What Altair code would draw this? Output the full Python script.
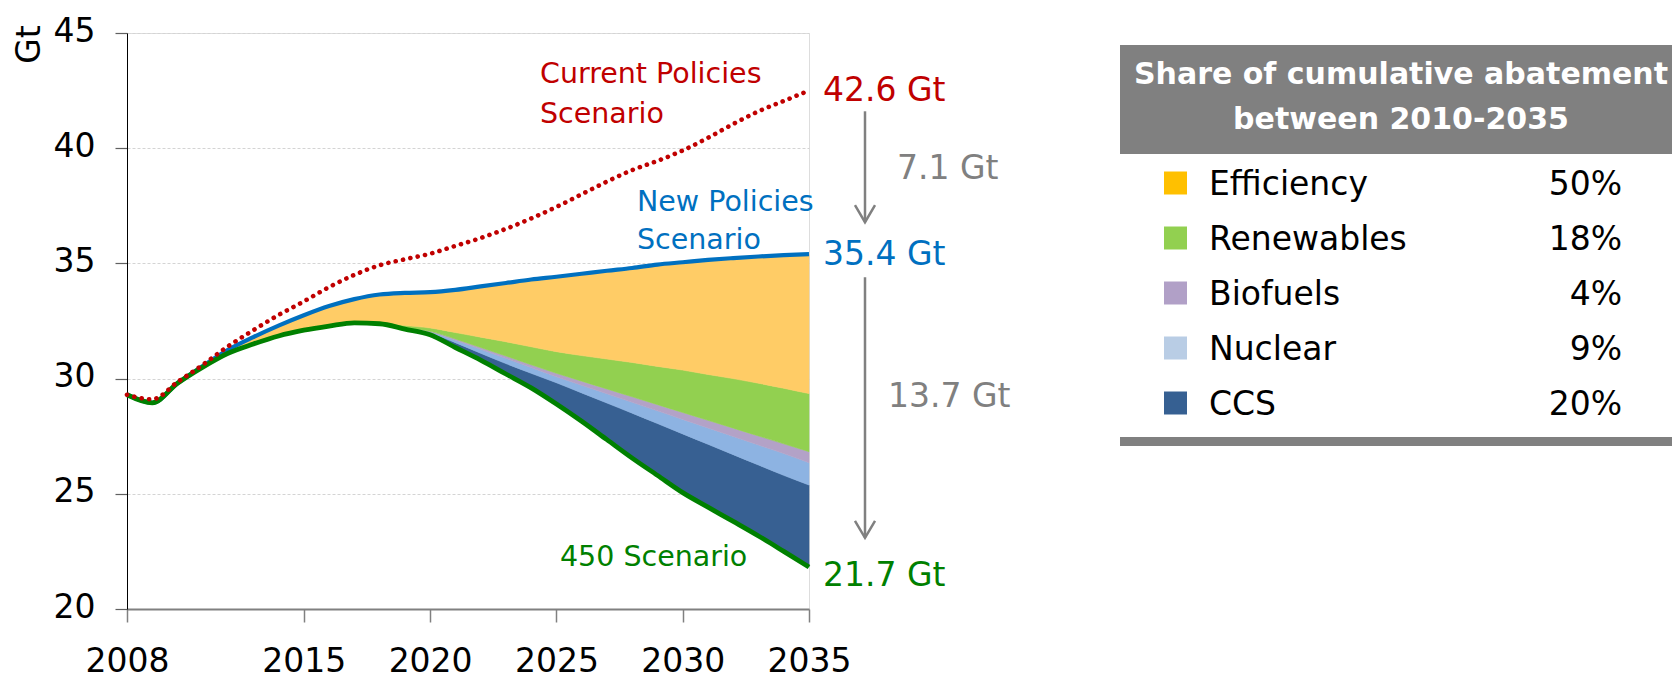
import altair as alt
import pandas as pd

# ---------------- data ----------------
years = [2008, 2009, 2010, 2011, 2012, 2013, 2014, 2015, 2016, 2017,
         2018, 2019, 2020, 2021, 2022, 2023, 2024, 2025, 2026, 2027,
         2028, 2029, 2030, 2031, 2032, 2033, 2034, 2035]

current_policies = [29.3, 29.1, 29.85, 30.6, 31.4, 32.1, 32.76, 33.35, 33.97, 34.5,
                    34.92, 35.18, 35.42, 35.76, 36.1, 36.5, 36.95, 37.45, 38.0, 38.55,
                    39.05, 39.45, 39.9, 40.45, 41.05, 41.6, 42.05, 42.5]

new_policies = [29.3, 28.95, 29.8, 30.55, 31.25, 31.8, 32.3, 32.75, 33.15, 33.45,
                33.65, 33.72, 33.75, 33.85, 34.0, 34.15, 34.3, 34.42, 34.55, 34.68,
                34.8, 34.95, 35.05, 35.15, 35.23, 35.3, 35.36, 35.4]

scenario_450 = [29.3, 28.95, 29.8, 30.5, 31.1, 31.5, 31.85, 32.1, 32.28, 32.42,
                32.38, 32.15, 31.9, 31.35, 30.8, 30.2, 29.6, 28.9, 28.15, 27.35,
                26.55, 25.8, 25.05, 24.42, 23.8, 23.17, 22.5, 21.82]

# abatement wedges (Gt) between New Policies and 450 Scenario
efficiency = [0, 0, 0, 0.05, 0.15, 0.3, 0.45, 0.65, 0.87, 1.03,
              1.23, 1.42, 1.55, 1.85, 2.2, 2.55, 2.92, 3.25, 3.55, 3.83,
              4.1, 4.42, 4.68, 4.97, 5.23, 5.5, 5.78, 6.05]
renewables = [0, 0, 0, 0, 0, 0, 0, 0, 0, 0,
              0.02, 0.08, 0.15, 0.28, 0.45, 0.62, 0.78, 0.94, 1.11, 1.30,
              1.49, 1.66, 1.84, 1.99, 2.15, 2.29, 2.41, 2.52]
biofuels = [0, 0, 0, 0, 0, 0, 0, 0, 0, 0,
            0, 0.02, 0.03, 0.06, 0.08, 0.10, 0.12, 0.15, 0.18, 0.21,
            0.24, 0.27, 0.30, 0.33, 0.36, 0.39, 0.42, 0.48]
nuclear = [0, 0, 0, 0, 0, 0, 0, 0, 0, 0,
           0.01, 0.02, 0.04, 0.10, 0.17, 0.23, 0.25, 0.26, 0.33, 0.40,
           0.47, 0.55, 0.63, 0.71, 0.79, 0.87, 0.95, 0.97]
ccs = [0, 0, 0, 0, 0, 0, 0, 0, 0, 0,
       0.01, 0.03, 0.08, 0.21, 0.30, 0.45, 0.63, 0.92, 1.23, 1.59,
       1.95, 2.25, 2.55, 2.73, 2.90, 3.08, 3.30, 3.56]

measures = ["Efficiency", "Renewables", "Biofuels", "Nuclear", "CCS"]
shares = ["50%", "18%", "4%", "9%", "20%"]

end_year = 2035
end_cps = 42.6
end_nps = 35.4
end_450 = 21.7
gap_labels = ["7.1 Gt", "13.7 Gt"]

x_ticks = [2008, 2015, 2020, 2025, 2030, 2035]
y_ticks = [20, 25, 30, 35, 40, 45]

# ---------------- styles ----------------
FONT = "DejaVu Sans"
RED, BLUE, GREEN, GREY = "#C00000", "#0070C0", "#008000", "#808080"
area_colors = ["#FFCC66", "#92D050", "#B3A2C7", "#8DB3E2", "#376092"]
swatch_colors = ["#FFC000", "#92D050", "#B1A0C7", "#B9CDE5", "#366092"]

# ---------------- tables ----------------
wedge_values = dict(zip(measures, [efficiency, renewables, biofuels, nuclear, ccs]))
stack_order = ["CCS", "Nuclear", "Biofuels", "Renewables", "Efficiency"]
rows = []
for i, yr in enumerate(years):
    base = scenario_450[i]
    for m in stack_order:
        top = base + wedge_values[m][i]
        rows.append({"year": yr, "measure": m, "low": round(base, 3), "high": round(top, 3),
                     "rank": stack_order.index(m)})
        base = top
wedges = pd.DataFrame(rows)

lines = pd.DataFrame({"year": years, "cps": current_policies,
                      "nps": new_policies, "s450": scenario_450})

x_scale = alt.Scale(domain=[2008, 2035], nice=False, zero=False)
y_scale = alt.Scale(domain=[20, 45], nice=False, zero=False)

x_axis = alt.Axis(values=x_ticks, format="d", title=None, grid=False,
                  domainColor=GREY, domainWidth=2, tickColor=GREY, tickWidth=1.5,
                  tickSize=13, labelFontSize=33, labelColor="black", labelFont=FONT,
                  labelPadding=23, labelFlush=False)
y_axis = alt.Axis(values=y_ticks, title="Gt", grid=True, gridColor="#D4D4D4",
                  gridDash=[3, 2], gridWidth=1, domainColor="black", domainWidth=1,
                  tickColor="#606060", tickWidth=1.2, tickSize=12,
                  labelFontSize=33, labelColor="black", labelFont=FONT,
                  labelPadding=20, labelOffset=-2,
                  titleFontSize=33, titleFont=FONT, titleFontWeight="normal",
                  titleColor="black", titleAngle=-90, titleX=-98, titleY=11,
                  titleAlign="center", titleBaseline="middle")


def X(field="year"):
    return alt.X(f"{field}:Q", scale=x_scale, axis=x_axis)


def Y(field):
    return alt.Y(f"{field}:Q", scale=y_scale, axis=y_axis)


areas = alt.Chart(wedges).mark_area(interpolate="monotone", opacity=1,
                                    strokeWidth=0.6).encode(
    x=X(), y=Y("high"), y2="low:Q",
    fill=alt.Fill("measure:N", scale=alt.Scale(domain=measures, range=area_colors), legend=None),
    stroke=alt.Stroke("measure:N", scale=alt.Scale(domain=measures, range=area_colors), legend=None),
    order=alt.Order("rank:Q"),
)

nps_line = alt.Chart(lines).mark_line(color=BLUE, strokeWidth=4.2, interpolate="monotone").encode(
    x=X(), y=Y("nps"))
s450_line = alt.Chart(lines).mark_line(color=GREEN, strokeWidth=4.8, interpolate="monotone").encode(
    x=X(), y=Y("s450"))
cps_line = alt.Chart(lines).mark_line(color=RED, strokeWidth=4.6, strokeDash=[0.1, 7.4],
                                      strokeCap="round", interpolate="monotone").encode(
    x=X(), y=Y("cps"))

arrow_df = pd.DataFrame({"year": [end_year, end_year],
                         "start": [end_cps, end_nps], "end": [end_nps, end_450]})
arrows = alt.Chart(arrow_df).mark_rule(color=GREY, strokeWidth=2.5, xOffset=56,
                                       yOffset=23, y2Offset=-32).encode(
    x=X(), y=Y("start"), y2="end:Q")
heads = alt.Chart(arrow_df).mark_point(shape="M -0.59 -1 L 0 0 L 0.59 -1", size=1156,
                                       filled=False, color=GREY, strokeWidth=2.5,
                                       opacity=1, xOffset=56, yOffset=-32).encode(
    x=X(), y=Y("end"))


def note(text, year, value, color, size, dx=0, dy=2, align="left", line_height=None):
    df = pd.DataFrame({"year": [year], "value": [value], "label": [text]})
    kw = dict(align=align, baseline="middle", dx=dx, dy=dy, fontSize=size,
              color=color, font=FONT, lineBreak="\n")
    if line_height:
        kw["lineHeight"] = line_height
    return alt.Chart(df).mark_text(**kw).encode(x=X(), y=Y("value"), text="label:N")


notes = [
    note(f"{end_cps} Gt", end_year, end_cps, RED, 33, dx=14, dy=3),
    note(f"{end_nps} Gt", end_year, end_nps, BLUE, 33, dx=14, dy=1),
    note(f"{end_450} Gt", end_year, end_450, GREEN, 33, dx=14, dy=6),
    note(gap_labels[0], end_year, 39.2, GREY, 33, dx=88),
    note(gap_labels[1], end_year, 29.3, GREY, 33, dx=79),
    note("Current Policies\nScenario", 2024.35, 43.31, RED, 28.5, line_height=40),
    note("New Policies\nScenario", 2028.19, 37.75, BLUE, 28.5, line_height=38),
    note("450 Scenario", 2025.14, 22.34, GREEN, 28.5),
]

main = alt.layer(areas, nps_line, s450_line, cps_line, arrows, heads, *notes)

# ---------------- legend panel ----------------
one = pd.DataFrame({"k": [0]})
legend_df = pd.DataFrame({"measure": measures, "share": shares})
leg_y = alt.Y("measure:N", scale=alt.Scale(type="point", domain=measures,
                                           range=[150, 370], padding=0), axis=None)

header_box = alt.Chart(one).mark_rect(color=GREY, opacity=1).encode(
    x=alt.value(993), x2=alt.value(1570), y=alt.value(12), y2=alt.value(121))
header_text = alt.Chart(one).mark_text(
    align="center", baseline="middle", dy=2, fontSize=30, fontWeight="bold",
    color="white", font=FONT, lineBreak="\n", lineHeight=45).encode(
    x=alt.value(1274), y=alt.value(40),
    text=alt.value("Share of cumulative abatement\nbetween 2010-2035"))
bottom_bar = alt.Chart(one).mark_rect(color=GREY, opacity=1).encode(
    x=alt.value(993), x2=alt.value(1570), y=alt.value(404), y2=alt.value(413))
swatches = alt.Chart(legend_df).mark_square(size=529, opacity=1).encode(
    x=alt.value(1048.5), y=leg_y,
    color=alt.Color("measure:N", scale=alt.Scale(domain=measures, range=swatch_colors),
                    legend=None))
names = alt.Chart(legend_df).mark_text(align="left", baseline="middle", dy=2,
                                       fontSize=33, color="black", font=FONT).encode(
    x=alt.value(1082), y=leg_y, text="measure:N")
pcts = alt.Chart(legend_df).mark_text(align="right", baseline="middle", dy=2,
                                      fontSize=33, color="black", font=FONT).encode(
    x=alt.value(1495), y=leg_y, text="share:N")

legend = alt.layer(header_box, header_text, bottom_bar, swatches, names, pcts)

chart = alt.layer(main, legend).resolve_scale(y="independent").properties(
    width=682, height=576,
    padding={"left": 119, "top": 25, "right": 863, "bottom": 70},
    autosize=alt.AutoSizeParams(type="none"),
).configure_view(stroke=None).configure(font=FONT)

chart.save("out.html", embed_options={"renderer": "svg", "actions": False})
